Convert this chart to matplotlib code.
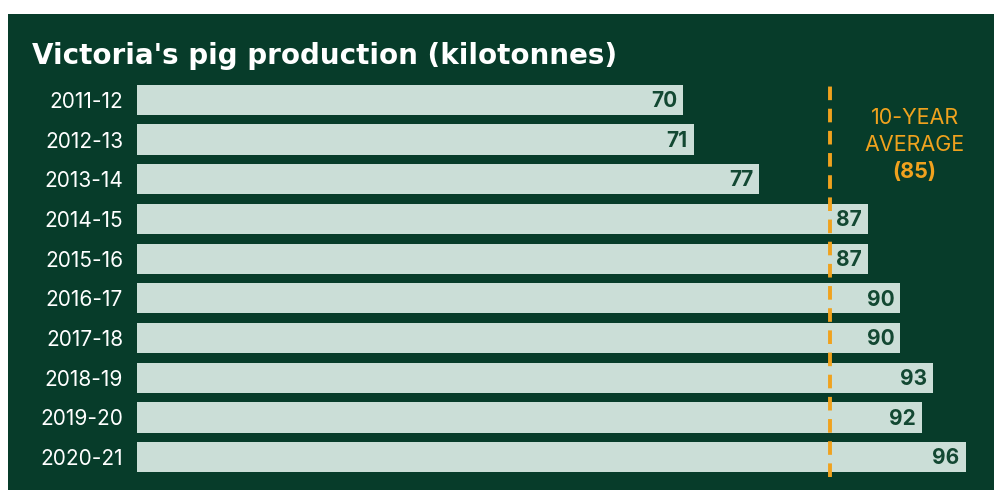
import matplotlib.pyplot as plt
from matplotlib.patches import Rectangle

plt.rcParams['font.family'] = ['Inter', 'DejaVu Sans']

years = ['2011-12', '2012-13', '2013-14', '2014-15', '2015-16',
         '2016-17', '2017-18', '2018-19', '2019-20', '2020-21']
production = [70, 71, 77, 87, 87, 90, 90, 93, 92, 96]
avg_label = 85
avg_line_pos = 83.5  # where the dashed line sits in the original graphic

bg = '#073c2a'
bar_col = '#cbded7'
lbl_col = '#134832'
orange = '#f0a21e'

fig = plt.figure(figsize=(9.95, 4.9), dpi=100)
fig.patch.set_facecolor('white')
fig.patches.append(Rectangle((8 / 995, -0.01), 1.01, 1.01 - 14 / 490, transform=fig.transFigure,
                             facecolor=bg, edgecolor='none', zorder=-5))

ax = fig.add_axes([137 / 995, 13 / 490, 1 - 137 / 995, 397 / 490])
ax.set_facecolor('none')
y = list(range(len(years)))
ax.barh(y, production, height=0.76, color=bar_col, zorder=2)
for yi, v in zip(y, production):
    ax.text(v - 0.55, yi + 0.03, str(v), ha='right', va='center', color=lbl_col,
            fontsize=15, fontweight='bold', zorder=4)

ax.set_xlim(19.8, 98.7)
ax.set_ylim(9.5, -0.5)
ax.set_yticks(y)
ax.set_yticklabels(years, color='white', fontsize=15)
ax.tick_params(axis='y', length=0, pad=10)
ax.set_xticks([])
for s in ax.spines.values():
    s.set_visible(False)

ax.axvline(avg_line_pos, ymin=0.0, ymax=0.995, color=orange, lw=2.8,
           linestyle=(0, (3.5, 2.2)), zorder=3)
ax.text(91.3, 0.45, '10-YEAR', ha='center', va='center', color=orange, fontsize=15.5)
ax.text(91.3, 1.13, 'AVERAGE', ha='center', va='center', color=orange, fontsize=15.5)
ax.text(91.3, 1.81, f'({avg_label})', ha='center', va='center', color=orange,
        fontsize=15.5, fontweight='bold')

fig.text(32 / 995, 1 - 56 / 490, "Victoria's pig production (kilotonnes)",
         ha='left', va='center', color='white', fontsize=20, fontweight='bold',
         family='DejaVu Sans')

fig.savefig('out.png', dpi=100)
